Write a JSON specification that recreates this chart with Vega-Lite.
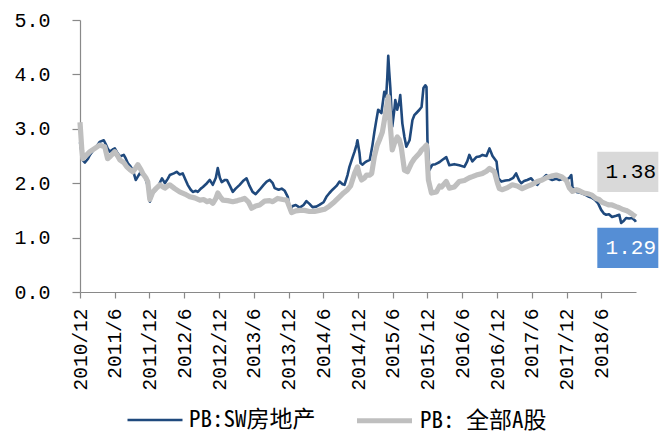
{
  "$schema": "https://vega.github.io/schema/vega-lite/v6.json",
  "width": 556,
  "height": 272,
  "autosize": {"type": "none"},
  "padding": {"left": 80, "top": 20, "right": 23, "bottom": 145},
  "background": "white",
  "config": {
    "view": {"stroke": null},
    "axis": {
      "grid": false,
      "title": null,
      "domainColor": "#898989",
      "tickColor": "#898989",
      "domainWidth": 1.2,
      "tickWidth": 1.2,
      "labelColor": "#000000",
      "labelFont": "Liberation Mono"
    }
  },
  "datasets": {
    "sw": [
      {"date": "2010-12-01", "pb": 2.75}, {"date": "2010-12-16", "pb": 2.42}, {"date": "2010-12-27", "pb": 2.38},
      {"date": "2011-01-12", "pb": 2.45}, {"date": "2011-01-22", "pb": 2.52}, {"date": "2011-02-12", "pb": 2.62},
      {"date": "2011-02-27", "pb": 2.68}, {"date": "2011-03-14", "pb": 2.76}, {"date": "2011-04-05", "pb": 2.79},
      {"date": "2011-04-15", "pb": 2.72}, {"date": "2011-04-25", "pb": 2.64}, {"date": "2011-05-06", "pb": 2.58},
      {"date": "2011-05-22", "pb": 2.62}, {"date": "2011-06-02", "pb": 2.64}, {"date": "2011-06-17", "pb": 2.55},
      {"date": "2011-06-28", "pb": 2.49}, {"date": "2011-07-19", "pb": 2.52}, {"date": "2011-07-30", "pb": 2.45},
      {"date": "2011-08-09", "pb": 2.37}, {"date": "2011-08-25", "pb": 2.30}, {"date": "2011-09-05", "pb": 2.24},
      {"date": "2011-09-20", "pb": 2.06}, {"date": "2011-10-01", "pb": 2.12}, {"date": "2011-10-11", "pb": 2.18},
      {"date": "2011-10-27", "pb": 2.15}, {"date": "2011-11-07", "pb": 2.12}, {"date": "2011-11-22", "pb": 1.95},
      {"date": "2011-12-03", "pb": 1.66}, {"date": "2011-12-19", "pb": 1.82}, {"date": "2012-01-04", "pb": 1.88},
      {"date": "2012-01-14", "pb": 1.93}, {"date": "2012-02-05", "pb": 2.09}, {"date": "2012-02-20", "pb": 2.00},
      {"date": "2012-03-06", "pb": 2.08}, {"date": "2012-03-17", "pb": 2.15}, {"date": "2012-04-07", "pb": 2.18},
      {"date": "2012-04-22", "pb": 2.21}, {"date": "2012-05-08", "pb": 2.16}, {"date": "2012-05-24", "pb": 2.18},
      {"date": "2012-06-09", "pb": 2.05}, {"date": "2012-06-19", "pb": 1.97}, {"date": "2012-07-05", "pb": 1.88},
      {"date": "2012-07-16", "pb": 1.84}, {"date": "2012-08-01", "pb": 1.86}, {"date": "2012-08-11", "pb": 1.84},
      {"date": "2012-08-27", "pb": 1.90}, {"date": "2012-09-07", "pb": 1.93}, {"date": "2012-09-28", "pb": 2.00},
      {"date": "2012-10-13", "pb": 2.06}, {"date": "2012-10-29", "pb": 1.97}, {"date": "2012-11-14", "pb": 2.10},
      {"date": "2012-11-24", "pb": 2.28}, {"date": "2012-12-05", "pb": 2.10}, {"date": "2012-12-15", "pb": 2.02},
      {"date": "2013-01-01", "pb": 2.06}, {"date": "2013-01-11", "pb": 2.06}, {"date": "2013-01-27", "pb": 1.95},
      {"date": "2013-02-11", "pb": 1.84}, {"date": "2013-02-26", "pb": 1.90}, {"date": "2013-03-19", "pb": 1.97},
      {"date": "2013-04-09", "pb": 2.05}, {"date": "2013-04-24", "pb": 2.09}, {"date": "2013-05-10", "pb": 1.95},
      {"date": "2013-05-26", "pb": 1.84}, {"date": "2013-06-11", "pb": 1.80}, {"date": "2013-07-02", "pb": 1.88},
      {"date": "2013-07-23", "pb": 1.97}, {"date": "2013-08-08", "pb": 2.03}, {"date": "2013-08-24", "pb": 2.06},
      {"date": "2013-09-09", "pb": 2.00}, {"date": "2013-09-19", "pb": 1.91}, {"date": "2013-10-10", "pb": 1.88},
      {"date": "2013-10-26", "pb": 1.90}, {"date": "2013-11-11", "pb": 1.86}, {"date": "2013-11-27", "pb": 1.75},
      {"date": "2013-12-07", "pb": 1.51}, {"date": "2013-12-23", "pb": 1.58}, {"date": "2014-01-08", "pb": 1.60},
      {"date": "2014-01-29", "pb": 1.55}, {"date": "2014-02-18", "pb": 1.60}, {"date": "2014-03-05", "pb": 1.67},
      {"date": "2014-03-21", "pb": 1.62}, {"date": "2014-04-06", "pb": 1.56}, {"date": "2014-04-26", "pb": 1.57},
      {"date": "2014-05-12", "pb": 1.60}, {"date": "2014-06-03", "pb": 1.65}, {"date": "2014-06-18", "pb": 1.75},
      {"date": "2014-07-04", "pb": 1.82}, {"date": "2014-07-20", "pb": 1.88}, {"date": "2014-08-10", "pb": 1.95},
      {"date": "2014-08-26", "pb": 2.03}, {"date": "2014-09-11", "pb": 1.98}, {"date": "2014-09-21", "pb": 1.97},
      {"date": "2014-10-07", "pb": 2.15}, {"date": "2014-10-17", "pb": 2.30}, {"date": "2014-11-03", "pb": 2.48},
      {"date": "2014-11-13", "pb": 2.58}, {"date": "2014-11-23", "pb": 2.70}, {"date": "2014-11-28", "pb": 2.79},
      {"date": "2014-12-09", "pb": 2.55}, {"date": "2014-12-14", "pb": 2.37}, {"date": "2014-12-25", "pb": 2.34},
      {"date": "2015-01-05", "pb": 2.38}, {"date": "2015-01-15", "pb": 2.40}, {"date": "2015-02-01", "pb": 2.43},
      {"date": "2015-02-15", "pb": 2.70}, {"date": "2015-02-25", "pb": 2.94}, {"date": "2015-03-07", "pb": 3.15},
      {"date": "2015-03-17", "pb": 3.35}, {"date": "2015-04-03", "pb": 3.29}, {"date": "2015-04-13", "pb": 3.55},
      {"date": "2015-04-18", "pb": 3.68}, {"date": "2015-04-28", "pb": 3.59}, {"date": "2015-05-04", "pb": 3.95},
      {"date": "2015-05-09", "pb": 4.34}, {"date": "2015-05-14", "pb": 4.05}, {"date": "2015-05-20", "pb": 3.75},
      {"date": "2015-05-25", "pb": 3.40}, {"date": "2015-05-30", "pb": 3.04}, {"date": "2015-06-10", "pb": 3.35},
      {"date": "2015-06-15", "pb": 3.53}, {"date": "2015-06-25", "pb": 3.35}, {"date": "2015-07-06", "pb": 3.50},
      {"date": "2015-07-11", "pb": 3.62}, {"date": "2015-07-22", "pb": 3.10}, {"date": "2015-08-02", "pb": 2.85},
      {"date": "2015-08-12", "pb": 2.67}, {"date": "2015-08-29", "pb": 2.79}, {"date": "2015-09-13", "pb": 3.16},
      {"date": "2015-09-23", "pb": 3.25}, {"date": "2015-10-04", "pb": 3.29}, {"date": "2015-10-20", "pb": 3.35},
      {"date": "2015-10-31", "pb": 3.40}, {"date": "2015-11-10", "pb": 3.75}, {"date": "2015-11-20", "pb": 3.80},
      {"date": "2015-11-26", "pb": 3.77}, {"date": "2015-12-01", "pb": 2.79}, {"date": "2015-12-11", "pb": 2.24},
      {"date": "2015-12-27", "pb": 2.34}, {"date": "2016-01-12", "pb": 2.35}, {"date": "2016-01-23", "pb": 2.37},
      {"date": "2016-02-03", "pb": 2.39}, {"date": "2016-02-18", "pb": 2.43}, {"date": "2016-03-09", "pb": 2.48},
      {"date": "2016-03-25", "pb": 2.33}, {"date": "2016-04-20", "pb": 2.35}, {"date": "2016-05-16", "pb": 2.33},
      {"date": "2016-06-12", "pb": 2.30}, {"date": "2016-06-27", "pb": 2.40}, {"date": "2016-07-08", "pb": 2.52},
      {"date": "2016-07-24", "pb": 2.40}, {"date": "2016-08-14", "pb": 2.48}, {"date": "2016-08-30", "pb": 2.49},
      {"date": "2016-09-15", "pb": 2.52}, {"date": "2016-10-06", "pb": 2.50}, {"date": "2016-10-22", "pb": 2.64},
      {"date": "2016-11-07", "pb": 2.50}, {"date": "2016-11-28", "pb": 2.40}, {"date": "2016-12-08", "pb": 2.09},
      {"date": "2016-12-24", "pb": 2.03}, {"date": "2017-01-14", "pb": 2.05}, {"date": "2017-02-04", "pb": 2.06},
      {"date": "2017-02-24", "pb": 2.10}, {"date": "2017-03-11", "pb": 2.18}, {"date": "2017-03-27", "pb": 2.05},
      {"date": "2017-04-07", "pb": 2.00}, {"date": "2017-04-22", "pb": 2.04}, {"date": "2017-05-08", "pb": 2.06},
      {"date": "2017-05-29", "pb": 2.09}, {"date": "2017-06-14", "pb": 2.02}, {"date": "2017-06-30", "pb": 1.97},
      {"date": "2017-07-21", "pb": 2.06}, {"date": "2017-08-17", "pb": 2.15}, {"date": "2017-09-02", "pb": 2.08},
      {"date": "2017-09-17", "pb": 2.06}, {"date": "2017-10-08", "pb": 2.08}, {"date": "2017-10-24", "pb": 2.06},
      {"date": "2017-11-14", "pb": 2.08}, {"date": "2017-11-30", "pb": 2.06}, {"date": "2017-12-16", "pb": 2.10},
      {"date": "2017-12-26", "pb": 2.15}, {"date": "2018-01-01", "pb": 1.93}, {"date": "2018-01-22", "pb": 1.84},
      {"date": "2018-02-16", "pb": 1.82}, {"date": "2018-03-13", "pb": 1.78}, {"date": "2018-03-29", "pb": 1.75},
      {"date": "2018-04-14", "pb": 1.73}, {"date": "2018-04-30", "pb": 1.69}, {"date": "2018-05-16", "pb": 1.63},
      {"date": "2018-06-01", "pb": 1.51}, {"date": "2018-06-16", "pb": 1.44}, {"date": "2018-06-27", "pb": 1.42},
      {"date": "2018-07-12", "pb": 1.43}, {"date": "2018-07-28", "pb": 1.38}, {"date": "2018-08-19", "pb": 1.40},
      {"date": "2018-09-04", "pb": 1.42}, {"date": "2018-09-14", "pb": 1.27}, {"date": "2018-09-25", "pb": 1.30},
      {"date": "2018-10-10", "pb": 1.36}, {"date": "2018-10-26", "pb": 1.35}, {"date": "2018-11-11", "pb": 1.36},
      {"date": "2018-11-27", "pb": 1.31}, {"date": "2018-11-30", "pb": 1.29}
    ],
    "all": [
      {"date": "2010-12-01", "pb": 3.12}, {"date": "2010-12-11", "pb": 2.60}, {"date": "2010-12-16", "pb": 2.45},
      {"date": "2010-12-27", "pb": 2.49}, {"date": "2011-01-22", "pb": 2.58}, {"date": "2011-02-17", "pb": 2.64},
      {"date": "2011-03-14", "pb": 2.70}, {"date": "2011-04-10", "pb": 2.67}, {"date": "2011-04-25", "pb": 2.45},
      {"date": "2011-05-11", "pb": 2.50}, {"date": "2011-06-02", "pb": 2.58}, {"date": "2011-06-17", "pb": 2.50},
      {"date": "2011-06-28", "pb": 2.43}, {"date": "2011-07-19", "pb": 2.38}, {"date": "2011-08-04", "pb": 2.30},
      {"date": "2011-08-20", "pb": 2.25}, {"date": "2011-09-05", "pb": 2.21}, {"date": "2011-09-20", "pb": 2.28},
      {"date": "2011-10-01", "pb": 2.34}, {"date": "2011-10-17", "pb": 2.25}, {"date": "2011-10-27", "pb": 2.18},
      {"date": "2011-11-12", "pb": 2.10}, {"date": "2011-11-22", "pb": 2.03}, {"date": "2011-12-03", "pb": 1.70},
      {"date": "2011-12-19", "pb": 1.84}, {"date": "2012-01-04", "pb": 1.90}, {"date": "2012-01-25", "pb": 1.97},
      {"date": "2012-02-10", "pb": 1.93}, {"date": "2012-02-20", "pb": 1.91}, {"date": "2012-03-06", "pb": 1.95},
      {"date": "2012-03-17", "pb": 1.97}, {"date": "2012-04-12", "pb": 1.90}, {"date": "2012-05-08", "pb": 1.84},
      {"date": "2012-06-04", "pb": 1.80}, {"date": "2012-06-30", "pb": 1.75}, {"date": "2012-07-26", "pb": 1.73},
      {"date": "2012-08-22", "pb": 1.69}, {"date": "2012-09-12", "pb": 1.70}, {"date": "2012-09-28", "pb": 1.66},
      {"date": "2012-10-13", "pb": 1.68}, {"date": "2012-10-29", "pb": 1.63}, {"date": "2012-11-14", "pb": 1.72},
      {"date": "2012-11-24", "pb": 1.82}, {"date": "2012-12-05", "pb": 1.76}, {"date": "2012-12-21", "pb": 1.69},
      {"date": "2013-01-16", "pb": 1.68}, {"date": "2013-02-11", "pb": 1.66}, {"date": "2013-03-08", "pb": 1.68},
      {"date": "2013-03-29", "pb": 1.70}, {"date": "2013-04-14", "pb": 1.72}, {"date": "2013-05-05", "pb": 1.65},
      {"date": "2013-05-21", "pb": 1.54}, {"date": "2013-06-11", "pb": 1.58}, {"date": "2013-07-02", "pb": 1.60},
      {"date": "2013-07-28", "pb": 1.67}, {"date": "2013-08-24", "pb": 1.68}, {"date": "2013-09-09", "pb": 1.66},
      {"date": "2013-10-05", "pb": 1.72}, {"date": "2013-11-01", "pb": 1.70}, {"date": "2013-11-22", "pb": 1.69},
      {"date": "2013-12-07", "pb": 1.55}, {"date": "2013-12-17", "pb": 1.46}, {"date": "2014-01-08", "pb": 1.49},
      {"date": "2014-01-29", "pb": 1.50}, {"date": "2014-02-23", "pb": 1.50}, {"date": "2014-03-21", "pb": 1.48},
      {"date": "2014-04-16", "pb": 1.48}, {"date": "2014-05-12", "pb": 1.50}, {"date": "2014-06-08", "pb": 1.52},
      {"date": "2014-07-04", "pb": 1.58}, {"date": "2014-07-31", "pb": 1.66}, {"date": "2014-08-26", "pb": 1.75},
      {"date": "2014-09-16", "pb": 1.82}, {"date": "2014-10-07", "pb": 1.88}, {"date": "2014-10-23", "pb": 1.95},
      {"date": "2014-11-13", "pb": 2.18}, {"date": "2014-11-28", "pb": 2.30}, {"date": "2014-12-09", "pb": 2.15},
      {"date": "2014-12-20", "pb": 2.06}, {"date": "2015-01-05", "pb": 2.10}, {"date": "2015-01-15", "pb": 2.15},
      {"date": "2015-02-01", "pb": 2.15}, {"date": "2015-02-11", "pb": 2.18}, {"date": "2015-02-25", "pb": 2.49},
      {"date": "2015-03-12", "pb": 2.70}, {"date": "2015-03-23", "pb": 2.79}, {"date": "2015-04-08", "pb": 2.94},
      {"date": "2015-04-23", "pb": 3.25}, {"date": "2015-05-09", "pb": 3.59}, {"date": "2015-05-20", "pb": 3.04},
      {"date": "2015-05-30", "pb": 2.61}, {"date": "2015-06-10", "pb": 2.73}, {"date": "2015-06-25", "pb": 2.85},
      {"date": "2015-07-06", "pb": 2.80}, {"date": "2015-07-16", "pb": 2.67}, {"date": "2015-08-02", "pb": 2.24},
      {"date": "2015-08-18", "pb": 2.21}, {"date": "2015-09-08", "pb": 2.37}, {"date": "2015-09-23", "pb": 2.45},
      {"date": "2015-10-04", "pb": 2.49}, {"date": "2015-10-20", "pb": 2.55}, {"date": "2015-10-31", "pb": 2.61},
      {"date": "2015-11-15", "pb": 2.66}, {"date": "2015-11-26", "pb": 2.70}, {"date": "2015-12-06", "pb": 2.06},
      {"date": "2015-12-22", "pb": 1.82}, {"date": "2016-01-17", "pb": 1.84}, {"date": "2016-02-03", "pb": 1.95},
      {"date": "2016-02-13", "pb": 1.93}, {"date": "2016-03-09", "pb": 2.03}, {"date": "2016-03-25", "pb": 1.91},
      {"date": "2016-04-20", "pb": 1.93}, {"date": "2016-05-16", "pb": 2.03}, {"date": "2016-06-12", "pb": 2.05},
      {"date": "2016-07-08", "pb": 2.10}, {"date": "2016-07-24", "pb": 2.12}, {"date": "2016-08-14", "pb": 2.15},
      {"date": "2016-09-15", "pb": 2.18}, {"date": "2016-10-06", "pb": 2.22}, {"date": "2016-10-22", "pb": 2.27},
      {"date": "2016-11-17", "pb": 2.21}, {"date": "2016-12-03", "pb": 2.00}, {"date": "2016-12-13", "pb": 1.90},
      {"date": "2016-12-29", "pb": 1.88}, {"date": "2017-01-25", "pb": 1.92}, {"date": "2017-02-19", "pb": 1.97},
      {"date": "2017-03-17", "pb": 1.95}, {"date": "2017-04-12", "pb": 1.90}, {"date": "2017-05-08", "pb": 1.94},
      {"date": "2017-06-04", "pb": 1.98}, {"date": "2017-06-30", "pb": 2.03}, {"date": "2017-07-26", "pb": 2.06},
      {"date": "2017-08-17", "pb": 2.10}, {"date": "2017-09-12", "pb": 2.13}, {"date": "2017-10-08", "pb": 2.15},
      {"date": "2017-11-04", "pb": 2.12}, {"date": "2017-11-30", "pb": 2.05}, {"date": "2017-12-16", "pb": 1.91},
      {"date": "2018-01-01", "pb": 1.85}, {"date": "2018-01-22", "pb": 1.88}, {"date": "2018-02-07", "pb": 1.86},
      {"date": "2018-03-03", "pb": 1.82}, {"date": "2018-03-29", "pb": 1.80}, {"date": "2018-04-14", "pb": 1.78},
      {"date": "2018-05-05", "pb": 1.72}, {"date": "2018-05-21", "pb": 1.70}, {"date": "2018-06-06", "pb": 1.65},
      {"date": "2018-06-27", "pb": 1.62}, {"date": "2018-07-12", "pb": 1.60}, {"date": "2018-07-28", "pb": 1.60},
      {"date": "2018-08-19", "pb": 1.57}, {"date": "2018-09-04", "pb": 1.55}, {"date": "2018-09-20", "pb": 1.52},
      {"date": "2018-10-10", "pb": 1.50}, {"date": "2018-10-26", "pb": 1.47}, {"date": "2018-11-11", "pb": 1.43},
      {"date": "2018-11-30", "pb": 1.38}
    ]
  },
  "encoding": {
    "x": {
      "field": "date",
      "type": "temporal",
      "scale": {
        "type": "utc",
        "domain": [
          {"year": 2010, "month": 12, "date": 1, "utc": true},
          {"year": 2018, "month": 12, "date": 1, "utc": true}
        ]
      },
      "axis": {
        "values": [
          {"year": 2010, "month": 12, "date": 1, "utc": true},
          {"year": 2011, "month": 6, "date": 1, "utc": true},
          {"year": 2011, "month": 12, "date": 1, "utc": true},
          {"year": 2012, "month": 6, "date": 1, "utc": true},
          {"year": 2012, "month": 12, "date": 1, "utc": true},
          {"year": 2013, "month": 6, "date": 1, "utc": true},
          {"year": 2013, "month": 12, "date": 1, "utc": true},
          {"year": 2014, "month": 6, "date": 1, "utc": true},
          {"year": 2014, "month": 12, "date": 1, "utc": true},
          {"year": 2015, "month": 6, "date": 1, "utc": true},
          {"year": 2015, "month": 12, "date": 1, "utc": true},
          {"year": 2016, "month": 6, "date": 1, "utc": true},
          {"year": 2016, "month": 12, "date": 1, "utc": true},
          {"year": 2017, "month": 6, "date": 1, "utc": true},
          {"year": 2017, "month": 12, "date": 1, "utc": true},
          {"year": 2018, "month": 6, "date": 1, "utc": true}
        ],
        "format": "%Y/%-m",
        "labelAngle": -90,
        "labelFontSize": 19.5,
        "labelPadding": 10,
        "tickSize": 6,
        "labelOverlap": false,
        "labelFlush": false,
        "labelBound": false
      }
    },
    "y": {
      "field": "pb",
      "type": "quantitative",
      "scale": {"domain": [0, 5], "nice": false, "zero": true},
      "axis": {
        "values": [0, 1, 2, 3, 4, 5],
        "format": ".1f",
        "labelFontSize": 20,
        "labelPadding": 22,
        "tickSize": 8
      }
    }
  },
  "layer": [
    {
      "data": {"name": "sw"},
      "mark": {"type": "line", "strokeJoin": "round"},
      "encoding": {
        "color": {
          "datum": "PB:SW房地产",
          "type": "nominal",
          "scale": {"domain": ["PB:SW房地产", "PB: 全部A股"], "range": ["#1F497D", "#BFBFBF"]},
          "legend": {
            "title": null,
            "orient": "none",
            "legendX": 46,
            "legendY": 370,
            "direction": "horizontal",
            "symbolType": "stroke",
            "symbolSize": 3025,
            "labelFont": "Noto Sans Mono CJK SC, Liberation Mono, Noto Sans CJK SC",
            "labelFontSize": 23,
            "labelColor": "#000000",
            "labelOffset": 5,
            "labelLimit": 0,
            "columnPadding": 30,
            "padding": 0
          }
        },
        "strokeWidth": {
          "datum": "PB:SW房地产",
          "type": "nominal",
          "scale": {"domain": ["PB:SW房地产", "PB: 全部A股"], "range": [2.6, 5.2]}
        }
      }
    },
    {
      "data": {"name": "all"},
      "mark": {"type": "line", "strokeJoin": "round"},
      "encoding": {
        "color": {"datum": "PB: 全部A股", "type": "nominal"},
        "strokeWidth": {"datum": "PB: 全部A股", "type": "nominal"}
      }
    },
    {
      "data": {"name": "all"},
      "transform": [
        {"window": [{"op": "rank", "as": "r"}], "sort": [{"field": "date", "order": "descending"}]},
        {"filter": "datum.r === 1"}
      ],
      "mark": {
        "type": "point",
        "shape": "M-1,-0.66H1V0.66H-1Z",
        "size": 3721,
        "filled": true,
        "color": "#D9D9D9",
        "opacity": 1,
        "strokeWidth": 0,
        "xOffset": -8,
        "yOffset": -45
      }
    },
    {
      "data": {"name": "all"},
      "transform": [
        {"window": [{"op": "rank", "as": "r"}], "sort": [{"field": "date", "order": "descending"}]},
        {"filter": "datum.r === 1"}
      ],
      "mark": {
        "type": "text",
        "font": "Liberation Mono",
        "fontSize": 21,
        "color": "#000000",
        "align": "center",
        "baseline": "middle",
        "dx": -5,
        "dy": -45
      },
      "encoding": {"text": {"field": "pb", "type": "quantitative", "format": ".2f"}}
    },
    {
      "data": {"name": "sw"},
      "transform": [
        {"window": [{"op": "rank", "as": "r"}], "sort": [{"field": "date", "order": "descending"}]},
        {"filter": "datum.r === 1"}
      ],
      "mark": {
        "type": "point",
        "shape": "M-1,-0.66H1V0.66H-1Z",
        "size": 3721,
        "filled": true,
        "color": "#558ED5",
        "opacity": 1,
        "strokeWidth": 0,
        "xOffset": -8,
        "yOffset": 26
      }
    },
    {
      "data": {"name": "sw"},
      "transform": [
        {"window": [{"op": "rank", "as": "r"}], "sort": [{"field": "date", "order": "descending"}]},
        {"filter": "datum.r === 1"}
      ],
      "mark": {
        "type": "text",
        "font": "Liberation Mono",
        "fontSize": 21,
        "color": "#FFFFFF",
        "align": "center",
        "baseline": "middle",
        "dx": -5,
        "dy": 26
      },
      "encoding": {"text": {"field": "pb", "type": "quantitative", "format": ".2f"}}
    }
  ]
}
